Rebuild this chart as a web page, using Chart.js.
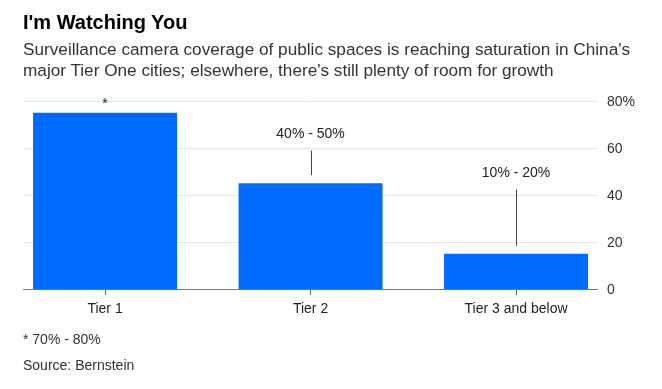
<!DOCTYPE html>
<html>
<head>
<meta charset="utf-8">
<script src="https://cdn.jsdelivr.net/npm/chart.js@4"></script>
<style>
body { margin: 0; background: #fff; font-family: "Liberation Sans", Arial, sans-serif; }
#wrap { position: relative; width: 662px; height: 389px; }
#chart { position: absolute; left: 0; top: 0; }
.t { position: absolute; left: 23px; white-space: nowrap; }
#title { top: 11px; font-size: 20px; font-weight: bold; color: #000; }
#sub { top: 39px; font-size: 17.2px; line-height: 21px; color: #333; }
#note { top: 331px; font-size: 14px; color: #333; }
#src { top: 357px; font-size: 14px; color: #333; }
</style>
</head>
<body>
<div id="wrap">
  <canvas id="chart" width="662" height="389"></canvas>
  <div class="t" id="title">I'm Watching You</div>
  <div class="t" id="sub">Surveillance camera coverage of public spaces is reaching saturation in China's<br>major Tier One cities; elsewhere, there's still plenty of room for growth</div>
  <div class="t" id="note">* 70% - 80%</div>
  <div class="t" id="src">Source: Bernstein</div>
</div>
<script>
const categories = ['Tier 1', 'Tier 2', 'Tier 3 and below'];
const coverage = [75, 45, 15];
const rangeNotes = ['*', '40% - 50%', '10% - 20%'];
const noteLevels = [78.7, 65.7, 49.1];
const yTicks = [0, 20, 40, 60, 80];
const yTickLabels = ['0', '20', '40', '60', '80%'];

const FONT = '"Liberation Sans", Arial, sans-serif';

const frame = {
  id: 'frame',
  beforeDatasetsDraw(chart) {
    const ctx = chart.ctx, y = chart.scales.y;
    const bars = chart.getDatasetMeta(0).data;
    const x0 = bars[0].x - bars[0].width / 2 - 10;
    const last = bars[bars.length - 1];
    const x1 = last.x + last.width / 2 + 10;
    ctx.save();
    ctx.lineWidth = 1;
    ctx.strokeStyle = '#e6e6e6';
    yTicks.forEach(v => {
      if (v === 0) return;
      const py = Math.round(y.getPixelForValue(v)) + 0.5;
      ctx.beginPath(); ctx.moveTo(x0, py); ctx.lineTo(x1, py); ctx.stroke();
    });
    // y tick labels, left aligned just right of the frame
    ctx.font = '14px ' + FONT;
    ctx.fillStyle = '#333';
    ctx.textAlign = 'left';
    ctx.textBaseline = 'middle';
    yTicks.forEach((v, i) => {
      ctx.fillText(yTickLabels[i], x1 + 9, y.getPixelForValue(v) + 1);
    });
    ctx.restore();
  },
  afterDatasetsDraw(chart) {
    const ctx = chart.ctx, y = chart.scales.y;
    const bars = chart.getDatasetMeta(0).data;
    const x0 = bars[0].x - bars[0].width / 2 - 10;
    const last = bars[bars.length - 1];
    const x1 = last.x + last.width / 2 + 10;
    ctx.save();
    const py = Math.round(y.getPixelForValue(0)) + 0.5;
    ctx.strokeStyle = '#777';
    ctx.lineWidth = 1;
    ctx.beginPath(); ctx.moveTo(x0, py); ctx.lineTo(x1, py); ctx.stroke();

    // range notes above the bars
    ctx.font = '14px ' + FONT;
    ctx.fillStyle = '#222';
    ctx.textAlign = 'center';
    ctx.textBaseline = 'middle';
    ctx.strokeStyle = '#444';
    bars.forEach((b, i) => {
      const ly = y.getPixelForValue(noteLevels[i]);
      ctx.fillText(rangeNotes[i], b.x, ly);
      if (i > 0) {
        const lx = Math.round(b.x) + 0.5;
        ctx.beginPath(); ctx.moveTo(lx, ly + 16); ctx.lineTo(lx, b.y - 8); ctx.stroke();
      }
    });
    ctx.restore();
  }
};

new Chart(document.getElementById('chart'), {
  type: 'bar',
  data: {
    labels: categories,
    datasets: [{
      data: coverage,
      backgroundColor: '#006cff',
      borderWidth: 0,
      categoryPercentage: 1,
      barPercentage: 0.7007
    }]
  },
  options: {
    responsive: false,
    devicePixelRatio: 1,
    animation: false,
    layout: { padding: { left: 2.3, right: 0, top: 101, bottom: 65.2 } },
    plugins: { legend: { display: false }, tooltip: { enabled: false } },
    scales: {
      x: {
        offset: true,
        grid: { display: true, drawOnChartArea: false, drawTicks: true, tickLength: 6, color: '#666', offset: false },
        border: { display: false },
        ticks: { padding: 6, color: '#222', font: { family: FONT, size: 14 } }
      },
      y: {
        position: 'right',
        min: 0,
        max: 80,
        afterBuildTicks: s => { s.ticks = yTicks.map(v => ({ value: v })); },
        afterFit: s => { s.width = 43.2; },
        grid: { display: false, drawTicks: false },
        border: { display: false },
        ticks: { display: false }
      }
    }
  },
  plugins: [frame]
});
</script>
</body>
</html>
